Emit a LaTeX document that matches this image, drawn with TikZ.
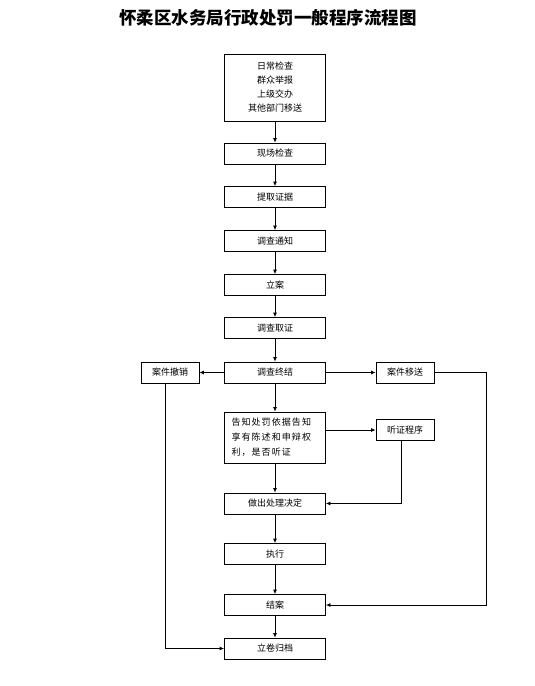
\documentclass[tikz,border=0pt]{standalone}
\usepackage{fontspec}
\newfontfamily\cjk{Noto Sans CJK SC}
\newfontfamily\cjkwide[LetterSpace=12]{Noto Sans CJK SC}
\usepackage{tikz}
\usetikzlibrary{arrows.meta, positioning}

\tikzset{
  box/.style={draw, line width=0.8pt, minimum width=101pt, minimum height=21pt, inner sep=0pt, font=\cjk\fontsize{9}{14}\selectfont},
  sidebox/.style={box, minimum width=58pt},
  flow/.style={line width=0.8pt, -{Latex[length=4.5pt,width=4pt]}}
}

\begin{document}
\begin{tikzpicture}[x=1pt, y=-1pt]
        \useasboundingbox (0,0) rectangle (535,686);
        \node[font=\cjk\bfseries\fontsize{17.5}{20}\selectfont] (title) at (268,18) {怀柔区水务局行政处罚一般程序流程图};
        % main column
        \node[box, minimum height=67pt, align=center] (source) at (275,87.5) {日常检查\\群众举报\\上级交办\\其他部门移送};
        \node[box] (site) at (275,153.5) {现场检查};
        \node[box] (evid) at (275,197) {提取证据};
        \node[box] (notice) at (275,241) {调查通知};
        \node[box] (case) at (275,285) {立案};
        \node[box] (inv) at (275,328) {调查取证};
        \node[box] (concl) at (275,372.5) {调查终结};
        \node[box, minimum height=51pt, text width=87pt, align=left, font=\cjkwide\fontsize{9}{15}\selectfont] (inform) at (275,437.5) {告知处罚依据告知\\享有陈述和申辩权\\利，是否听证};
        \node[box] (decide) at (275,503.5) {做出处理决定};
        \node[box] (exec) at (275,554) {执行};
        \node[box] (close) at (275,605) {结案};
        \node[box] (archive) at (275,648.5) {立卷归档};
        % side boxes
        \node[sidebox] (cancel) at (170,372.5) {案件撤销};
        \node[sidebox] (transfer) at (405,372.5) {案件移送};
        \node[sidebox] (hear) at (405,430) {听证程序};
        \coordinate (rgt) at (486,372.5);
        % connectors
        \draw[flow] (source) -- (site);
        \draw[flow] (site) -- (evid);
        \draw[flow] (evid) -- (notice);
        \draw[flow] (notice) -- (case);
        \draw[flow] (case) -- (inv);
        \draw[flow] (inv) -- (concl);
        \draw[flow] (concl) -- (cancel);
        \draw[flow] (concl) -- (transfer);
        \draw[flow] (concl) -- (inform);
        \draw[flow] (inform.east |- hear.west) -- (hear.west);
        \draw[flow] (inform) -- (decide);
        \draw[flow] ([xshift=-4pt]hear.south) |- (decide.east);
        \draw[flow] (decide) -- (exec);
        \draw[flow] (exec) -- (close);
        \draw[flow] (close) -- (archive);
        \draw[flow] (transfer.east) -- (rgt) |- (close.east);
        \draw[flow] ([xshift=-5pt]cancel.south) |- (archive.west);
    \end{tikzpicture}
\end{document}
